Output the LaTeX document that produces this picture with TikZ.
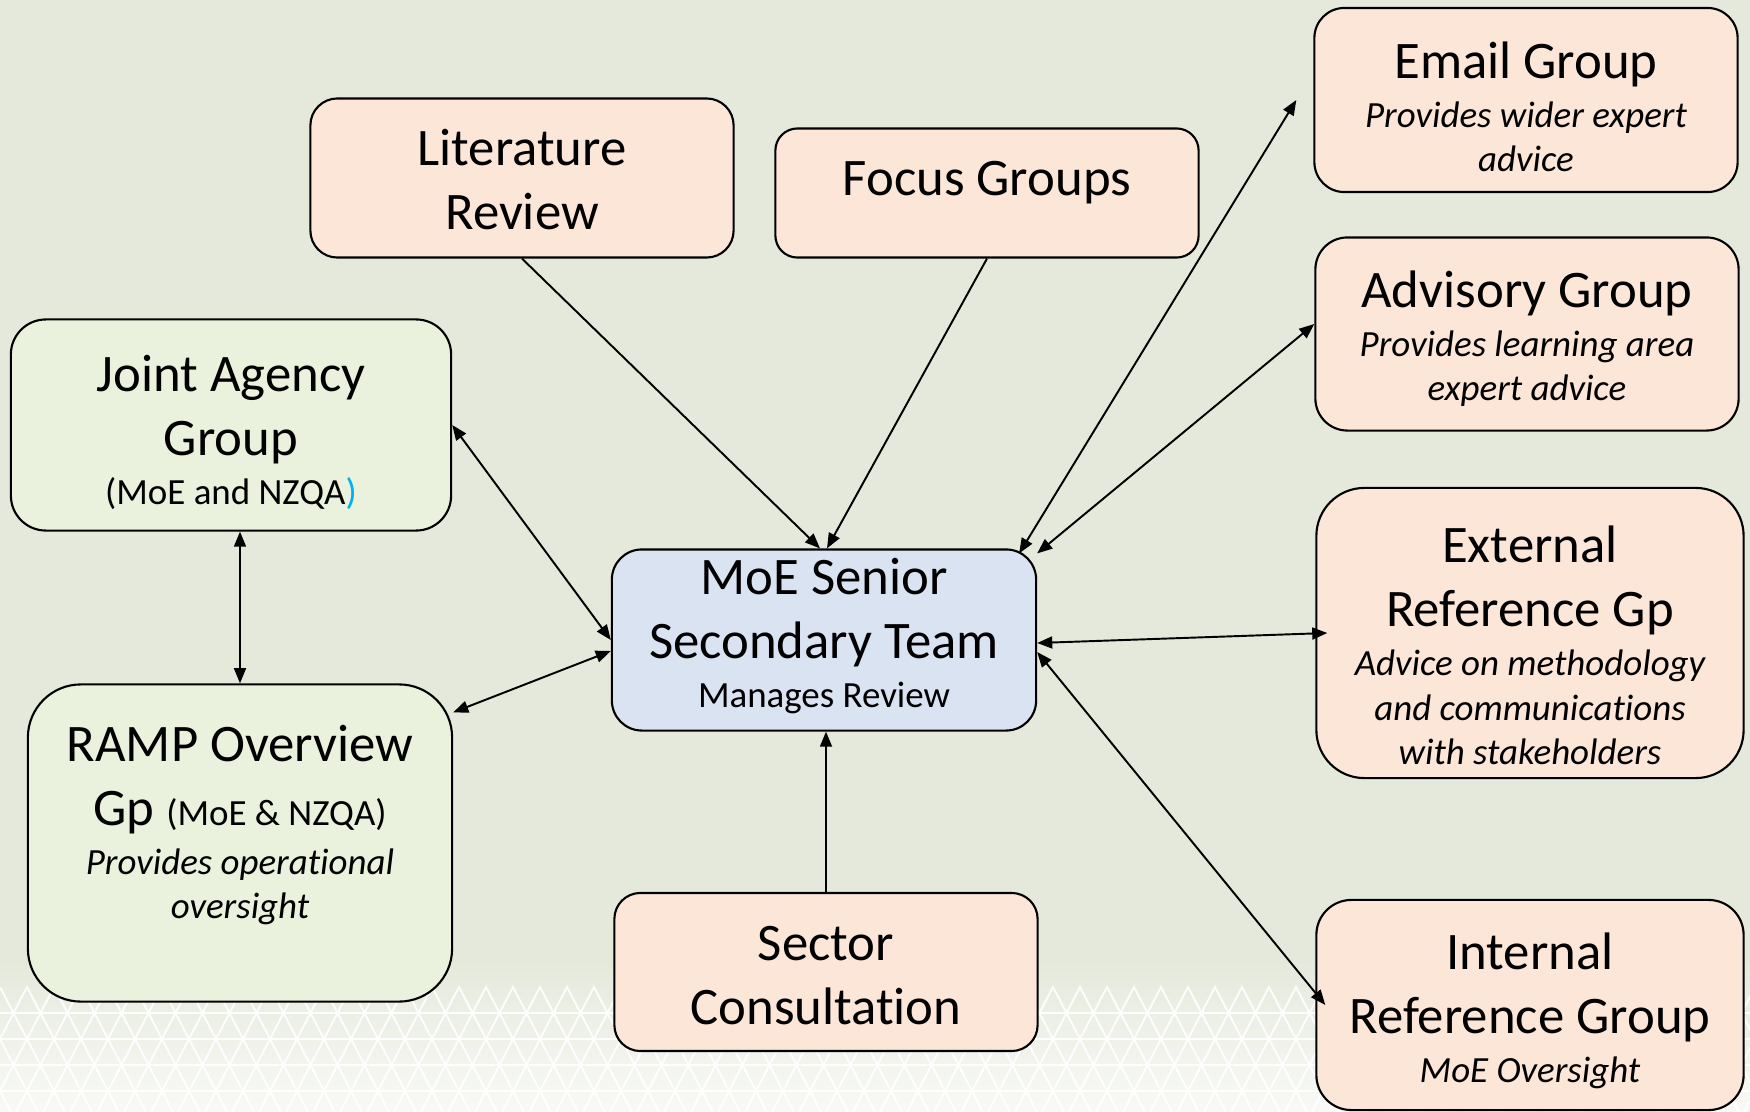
\documentclass[tikz,border=0pt]{standalone}
\usepackage{fontspec}
\setmainfont{Carlito}[Ligatures=NoCommon]
\usepackage{tikz}
\usetikzlibrary{arrows.meta}
\definecolor{revbg}{RGB}{229,233,219}
\definecolor{revpeach}{RGB}{251,230,215}
\definecolor{revgreen}{RGB}{234,241,221}
\definecolor{revblue}{RGB}{218,227,242}
\definecolor{revcyan}{RGB}{0,176,240}
\newcommand{\revit}{\fontsize{10.5}{12.6}\selectfont\itshape}
\newcommand{\revsm}{\fontsize{10.5}{12.6}\selectfont}
\newcommand{\revstrut}[1]{\rule{0pt}{#1}}

\begin{document}
\begin{tikzpicture}[x=0.01cm, y=-0.01cm, >={Triangle[length=4.3pt,width=3.4pt]},
    revbox/.style={draw=black, line width=0.6pt, align=center, inner sep=0pt,
      font=\fontsize{15}{18.2}\selectfont},
    revarrow/.style={line width=0.55pt},
    revzig/.style={white, line width=0.55pt, opacity=0.9}]
        \useasboundingbox (0,0) rectangle (1750,1112);
        \fill[revbg] (0,0) rectangle (1750,1112);
        \begin{scope}
            \clip (0,0) rectangle (1750,1112);
            \shade[top color=revbg, bottom color=white!75!revbg] (0,960) rectangle (1750,1112);
            \foreach \r/\s in {0/0,1/-13.5,2/0,3/-13.5,4/0} {
                \draw[revzig] (\s,987+26*\r) \foreach \i in {1,...,66} { -- ++(13.5,26) -- ++(13.5,-26) };
            }
            \foreach \r in {1,...,4} {
                \draw[revzig] (0,987+26*\r) -- (1750,987+26*\r);
            }
        \end{scope}

        \node[revbox, fill=revpeach, minimum width=4.23cm, minimum height=1.59cm, rounded corners=0.27cm] (litrev) at (522,178) {\revstrut{11.3pt}Literature\\Review};
        \node[revbox, fill=revpeach, minimum width=4.23cm, minimum height=1.29cm, rounded corners=0.22cm, text depth=8.4pt] (focus) at (987,193) {Focus Groups};
        \node[revbox, fill=revpeach, minimum width=4.23cm, minimum height=1.84cm, rounded corners=0.3cm] (email) at (1526,100) {\revstrut{14.3pt}Email Group\\[-4.3pt]{\revit Provides wider expert}\\[-5.6pt]{\revit advice}};
        \node[revbox, fill=revpeach, minimum width=4.23cm, minimum height=1.93cm, rounded corners=0.32cm] (advisory) at (1527,334) {\revstrut{13.2pt}Advisory Group\\[-4.3pt]{\revit Provides learning area}\\[-5.6pt]{\revit expert advice}};
        \node[revbox, fill=revpeach, minimum width=4.27cm, minimum height=2.9cm, rounded corners=0.48cm] (external) at (1530,633) {\revstrut{17.5pt}External\\Reference Gp\\[-4.3pt]{\revit Advice on methodology}\\[-5.6pt]{\revit and communications}\\[-5.6pt]{\revit with stakeholders}};
        \node[revbox, fill=revpeach, minimum width=4.27cm, minimum height=2.1cm, rounded corners=0.35cm] (internal) at (1530,1005) {\revstrut{13.6pt}Internal\\Reference Group\\[-4.3pt]{\revit MoE Oversight}};
        \node[revbox, fill=revgreen, minimum width=4.4cm, minimum height=2.11cm, rounded corners=0.35cm] (joint) at (231,425) {\revstrut{14.4pt}Joint Agency\\Group\\[-4.3pt]{\revsm (MoE and NZQA\textcolor{revcyan}{)}}};
        \node[revbox, fill=revgreen, minimum width=4.24cm, minimum height=3.17cm, rounded corners=0.53cm] (ramp) at (240,843) {};
        \node[align=center, inner sep=0pt, font=\fontsize{15}{18.2}\selectfont] (ramptext) at (240,825) {RAMP Overview\\Gp {\revsm (MoE \& NZQA)}\\[-4.3pt]{\revit Provides operational}\\[-5.6pt]{\revit oversight}};
        \node[revbox, fill=revblue, minimum width=4.24cm, minimum height=1.81cm, rounded corners=0.3cm, text depth=4pt] (moe) at (824,640) {MoE Senior\\Secondary Team\\[-4.3pt]{\revsm Manages Review}};
        \node[revbox, fill=revpeach, minimum width=4.23cm, minimum height=1.58cm, rounded corners=0.26cm] (sector) at (826,972) {\revstrut{11.8pt}Sector\\Consultation};

        \draw[revarrow, ->] (litrev.south) -- ([xshift=-0.04cm]moe.north);
        \draw[revarrow, ->] (focus.south) -- ([xshift=0.03cm]moe.north);
        \draw[revarrow, <->] ([xshift=-0.17cm]email.west) -- ([xshift=-0.18cm,yshift=-0.05cm]moe.north east);
        \draw[revarrow, <->] ([yshift=0.1cm]advisory.west) -- ([yshift=-0.05cm]moe.north east);
        \draw[revarrow, <->] ([xshift=0.12cm]external.west) -- ([yshift=-0.03cm]moe.east);
        \draw[revarrow, <->] ([xshift=0.1cm]internal.west) -- ([yshift=-0.12cm]moe.east);
        \draw[revarrow, <->] (joint.east) -- (moe.west);
        \draw[revarrow, <->] ([yshift=-0.29cm]ramp.north east) -- ([yshift=-0.11cm]moe.west);
        \draw[revarrow, <->] (ramp.north) -- (ramp.north |- joint.south);
        \draw[revarrow, ->] (sector.north) -- (sector.north |- moe.south);
    \end{tikzpicture}
\end{document}
